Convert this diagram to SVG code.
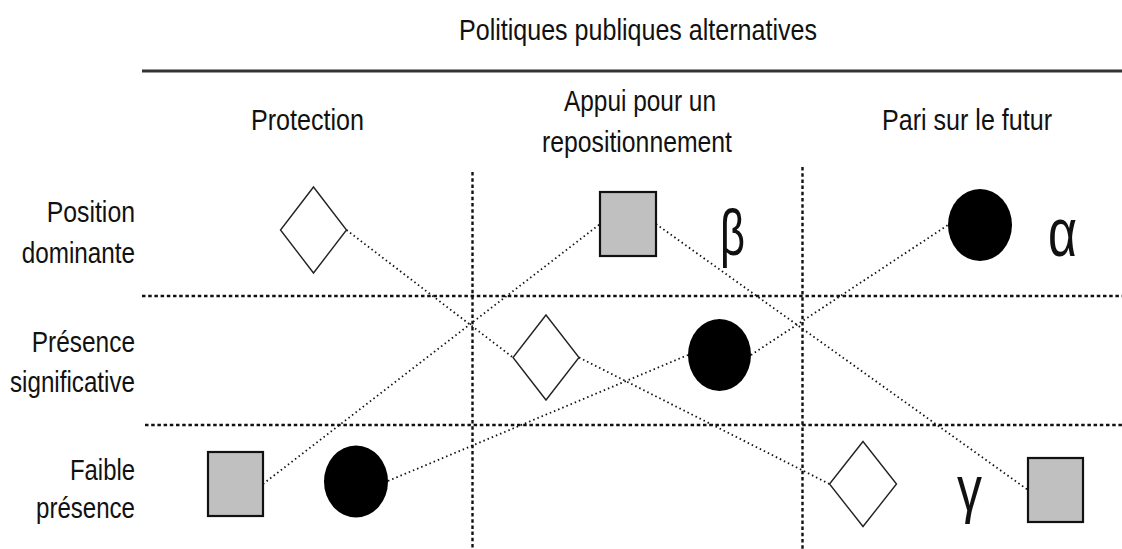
<svg xmlns="http://www.w3.org/2000/svg" width="1122" height="549" viewBox="0 0 1122 549">
  <style>
    .lbl { font-family: "Liberation Sans", Arial, sans-serif; font-size: 29px; fill: #111; }
    .greek { font-family: "Liberation Sans", "DejaVu Sans", sans-serif; fill: #111; }
    .grid { stroke: #111; stroke-width: 2.4; stroke-dasharray: 3.5 2.7; fill: none; }
    .conn { stroke: #111; stroke-width: 1.8; stroke-dasharray: 1.5 3; fill: none; }
    .diamond { fill: #fff; stroke: #222; stroke-width: 1.4; }
    .square { fill: #c0c0c0; stroke: #111; stroke-width: 2.2; }
    .dot { fill: #000; }
  </style>
  <rect width="1122" height="549" fill="#fff"/>

  <g id="header">
    <text class="lbl" x="459" y="40" font-size="30" textLength="358" lengthAdjust="spacingAndGlyphs">Politiques publiques alternatives</text>
    <line x1="142" y1="71" x2="1122" y2="71" stroke="#333" stroke-width="2.8"/>
    <text class="lbl" x="251" y="130" textLength="113" lengthAdjust="spacingAndGlyphs">Protection</text>
    <text class="lbl" x="564" y="111" textLength="152" lengthAdjust="spacingAndGlyphs">Appui pour un</text>
    <text class="lbl" x="542" y="152" textLength="190" lengthAdjust="spacingAndGlyphs">repositionnement</text>
    <text class="lbl" x="882" y="130" textLength="170" lengthAdjust="spacingAndGlyphs">Pari sur le futur</text>
  </g>

  <g id="row-labels">
    <text class="lbl" x="46.7" y="222" textLength="88.3" lengthAdjust="spacingAndGlyphs">Position</text>
    <text class="lbl" x="21.7" y="263" textLength="113.3" lengthAdjust="spacingAndGlyphs">dominante</text>
    <text class="lbl" x="31.7" y="352" textLength="103.3" lengthAdjust="spacingAndGlyphs">Présence</text>
    <text class="lbl" x="10" y="392" textLength="125" lengthAdjust="spacingAndGlyphs">significative</text>
    <text class="lbl" x="70" y="480" textLength="65" lengthAdjust="spacingAndGlyphs">Faible</text>
    <text class="lbl" x="36" y="518" textLength="99" lengthAdjust="spacingAndGlyphs">présence</text>
  </g>

  <g id="grid">
    <line class="grid" x1="472.5" y1="172" x2="472.5" y2="549"/>
    <line class="grid" x1="802.5" y1="167" x2="802.5" y2="549"/>
    <line class="grid" x1="142" y1="296" x2="1122" y2="296"/>
    <line class="grid" x1="145" y1="425" x2="1122" y2="425"/>
  </g>

  <g id="connectors">
    <line class="conn" x1="346.5" y1="230" x2="513" y2="357.5"/>
    <line class="conn" x1="579" y1="357.5" x2="829.5" y2="484"/>
    <line class="conn" x1="263" y1="484" x2="600" y2="224"/>
    <line class="conn" x1="656" y1="224" x2="1028" y2="490"/>
    <line class="conn" x1="388" y1="481" x2="688" y2="355"/>
    <line class="conn" x1="751" y1="355" x2="948" y2="225"/>
  </g>

  <g id="diamond-protection">
    <polygon class="diamond" points="313.5,187 346.5,230 313.5,273 280.5,230"/>
  </g>
  <g id="diamond-appui">
    <polygon class="diamond" points="546,315 579,357.5 546,400 513,357.5"/>
  </g>
  <g id="diamond-pari">
    <polygon class="diamond" points="863,441.5 896.5,484 863,526.5 829.5,484"/>
  </g>

  <g id="square-appui">
    <rect class="square" x="600" y="192" width="56" height="64"/>
  </g>
  <g id="square-protection">
    <rect class="square" x="208" y="452" width="55" height="64"/>
  </g>
  <g id="square-pari">
    <rect class="square" x="1028" y="458" width="55" height="64"/>
  </g>

  <g id="circle-pari">
    <ellipse class="dot" cx="980" cy="225" rx="32" ry="36"/>
  </g>
  <g id="circle-appui">
    <ellipse class="dot" cx="719.5" cy="355" rx="31.5" ry="36"/>
  </g>
  <g id="circle-protection">
    <ellipse class="dot" cx="356" cy="481.5" rx="32" ry="36"/>
  </g>

  <g id="greek-labels">
    <text class="greek" x="720" y="255" font-size="65" textLength="25" lengthAdjust="spacingAndGlyphs">β</text>
    <text class="greek" x="1048" y="256" font-size="68" textLength="29" lengthAdjust="spacingAndGlyphs">α</text>
    <text class="greek" x="957" y="511" font-size="64" textLength="25" lengthAdjust="spacingAndGlyphs">γ</text>
  </g>
</svg>
